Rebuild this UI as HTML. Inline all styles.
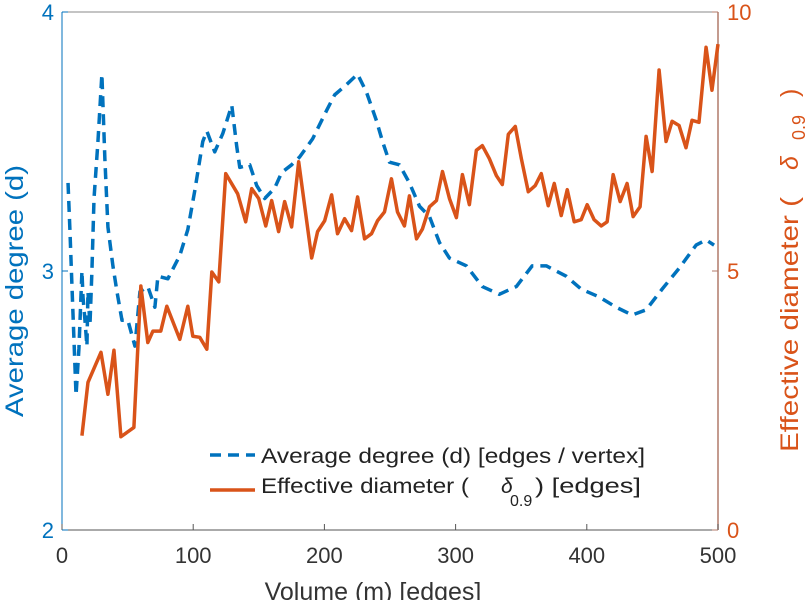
<!DOCTYPE html>
<html><head><meta charset="utf-8"><style>
html,body{margin:0;padding:0;background:#fff;}
svg{display:block;font-family:"Liberation Sans",sans-serif;}
</style></head><body>
<svg id="chart" width="812" height="600" viewBox="0 0 812 600"></svg>
<script>
const xTicks=[0,100,200,300,400,500];
const leftTicks=[2,3,4];
const rightTicks=[0,5,10];
const degM=[4.6,6.1,7.6,10.7,12.9,15.2,16.0,17.5,19.0,19.8,21.3,22.8,24.4,27.4,30.4,32.7,35.0,38.8,41.9,45.7,50.2,55.6,59.4,65.4,70.8,73.1,80.7,89.8,95.9,101.2,107.3,110.4,116.4,122.5,129.4,133.2,135.5,143.1,148.4,154.5,162.1,167.4,175.0,181.1,191.0,201.7,207.8,216.9,225.3,232.1,239.7,244.3,249.6,257.2,264.8,272.5,280.1,287.7,295.3,308.2,320.4,333.3,346.3,358.4,369.1,384.3,395.7,409.4,422.4,434.6,445.2,457.4,470.3,483.3,490.9,497.0];
const degD=[3.34,3.15,2.94,2.52,2.70,3.00,2.90,2.81,2.71,2.92,2.79,3.00,3.28,3.50,3.76,3.43,3.17,3.02,2.92,2.81,2.81,2.71,2.92,2.94,2.86,2.98,2.97,3.06,3.16,3.31,3.50,3.54,3.46,3.53,3.64,3.48,3.40,3.41,3.33,3.28,3.32,3.38,3.41,3.44,3.51,3.62,3.68,3.72,3.76,3.69,3.58,3.50,3.42,3.41,3.34,3.25,3.21,3.11,3.05,3.02,2.94,2.91,2.94,3.02,3.02,2.98,2.93,2.90,2.86,2.83,2.85,2.93,3.01,3.10,3.12,3.10];
const diaM=[15.2,19.8,29.7,35.0,39.6,44.9,54.8,60.1,65.4,69.3,75.3,79.9,89.8,95.9,99.7,105.0,110.4,114.2,119.5,124.8,133.9,140.0,144.6,149.9,155.3,159.8,165.1,169.7,175.0,180.4,190.3,194.8,200.2,205.5,210.0,215.4,220.7,225.3,230.6,235.9,240.5,245.8,251.1,255.7,261.0,264.8,270.2,274.7,280.1,285.4,290.0,295.3,300.6,305.2,310.5,315.8,320.4,325.7,331.1,335.6,340.2,345.5,350.1,355.4,360.7,365.3,370.6,375.2,380.5,385.1,390.4,395.7,400.3,405.6,411.0,415.5,420.1,425.4,430.7,435.3,440.6,445.2,449.8,455.1,460.4,465.0,470.3,475.6,480.2,485.5,490.9,495.4,500];
const diaE=[1.82,2.85,3.43,2.62,3.47,1.80,1.98,4.71,3.62,3.84,3.84,4.32,3.68,4.32,3.74,3.72,3.49,4.98,4.79,6.88,6.49,5.95,6.59,6.40,5.87,6.36,5.76,6.34,5.85,7.11,5.25,5.76,5.97,6.47,5.72,6.01,5.78,6.43,5.62,5.72,5.97,6.14,6.78,6.14,5.87,6.45,5.62,5.81,6.24,6.36,6.92,6.40,6.03,6.86,6.28,7.33,7.42,7.17,6.84,6.67,7.64,7.79,7.17,6.53,6.65,6.88,6.26,6.69,6.07,6.57,5.95,5.99,6.28,5.99,5.87,5.95,6.86,6.34,6.69,6.05,6.24,7.60,6.92,8.88,7.50,7.89,7.81,7.38,7.91,7.87,9.32,8.49,9.38];

const L=62,R=718,T=12,B=530;
const BLUE='#0072BD',ORANGE='#D95319';
const xs=m=>L+(m/500)*(R-L);
const yl=d=>B-(d-2)/2*(B-T);
const yr=e=>B-e/10*(B-T);
const svg=document.getElementById('chart');
const NS='http://www.w3.org/2000/svg';
function mk(tag,attrs,text){const e=document.createElementNS(NS,tag);for(const k in attrs)e.setAttribute(k,attrs[k]);if(text!==undefined)e.textContent=text;svg.appendChild(e);return e;}

let e;
e=mk('line',{x1:L,y1:T,x2:R,y2:T,stroke:'#888','stroke-width':1});


e=mk('line',{x1:L,y1:B,x2:R,y2:B,stroke:'#555','stroke-width':1});


e=mk('line',{x1:L,y1:T,x2:L,y2:B,stroke:BLUE,'stroke-width':1});


e=mk('line',{x1:R,y1:T,x2:R,y2:B,stroke:'#b07a6a','stroke-width':1.5});



xTicks.forEach(v=>{
  const x=xs(v);
  let t=mk('line',{x1:x,y1:B,x2:x,y2:B-6,stroke:'#555'});
  
  
  let l=mk('text',{x:x,y:B+33,'text-anchor':'middle','font-size':22,fill:'#333'},String(v));
  
  
});
leftTicks.forEach(v=>{
  const y=yl(v);
  let t=mk('line',{x1:L,y1:y,x2:L+6,y2:y,stroke:BLUE});
  
  
  let l=mk('text',{x:L-8,y:y+8,'text-anchor':'end','font-size':22,fill:BLUE},String(v));
  
  
});
rightTicks.forEach(v=>{
  const y=yr(v);
  let t=mk('line',{x1:R-6,y1:y,x2:R,y2:y,stroke:'#b07a6a'});
  
  
  let l=mk('text',{x:R+9,y:y+8,'text-anchor':'start','font-size':22,fill:ORANGE},String(v));
  
  
});

let p=mk('polyline',{points:degM.map((m,i)=>xs(m)+','+yl(degD[i])).join(' '),fill:'none',stroke:BLUE,'stroke-width':3.5,'stroke-dasharray':'11,7','stroke-linejoin':'round'});


p=mk('polyline',{points:diaM.map((m,i)=>xs(m)+','+yr(diaE[i])).join(' '),fill:'none',stroke:ORANGE,'stroke-width':3.5,'stroke-linejoin':'round'});



let t=mk('text',{x:23,y:417,'font-size':25,fill:BLUE,textLength:252,lengthAdjust:'spacingAndGlyphs',transform:'rotate(-90 23 417)'},'Average degree (d)');


t=mk('text',{x:798,y:452,'font-size':25,fill:ORANGE,textLength:255,lengthAdjust:'spacingAndGlyphs',transform:'rotate(-90 798 452)'},'Effective diameter (');


t=mk('text',{x:798,y:170,'font-size':25,'font-style':'italic',fill:ORANGE,transform:'rotate(-90 798 170)'},'δ');


t=mk('text',{x:805,y:140,'font-size':18,fill:ORANGE,transform:'rotate(-90 805 140)'},'0.9');


t=mk('text',{x:798,y:97,'font-size':25,fill:ORANGE,transform:'rotate(-90 798 97)'},')');


t=mk('text',{x:373,y:600,'text-anchor':'middle','font-size':25,fill:'#333'},'Volume (m) [edges]');



let g=mk('line',{x1:210,y1:455,x2:255,y2:455,stroke:BLUE,'stroke-width':3.5,'stroke-dasharray':'11,7'});


g=mk('text',{x:261,y:463,'font-size':21,fill:'#222',textLength:384,lengthAdjust:'spacingAndGlyphs'},'Average degree (d) [edges / vertex]');


g=mk('line',{x1:210,y1:490,x2:255,y2:490,stroke:ORANGE,'stroke-width':3.5});


g=mk('text',{x:261,y:493,'font-size':21,fill:'#222',textLength:208,lengthAdjust:'spacingAndGlyphs'},'Effective diameter (');


g=mk('text',{x:501,y:493,'font-size':21,'font-style':'italic',fill:'#222'},'δ');


g=mk('text',{x:510,y:506,'font-size':16,fill:'#222'},'0.9');


g=mk('text',{x:535,y:493,'font-size':21,fill:'#222',textLength:106,lengthAdjust:'spacingAndGlyphs'},') [edges]');


</script>
</body></html>
